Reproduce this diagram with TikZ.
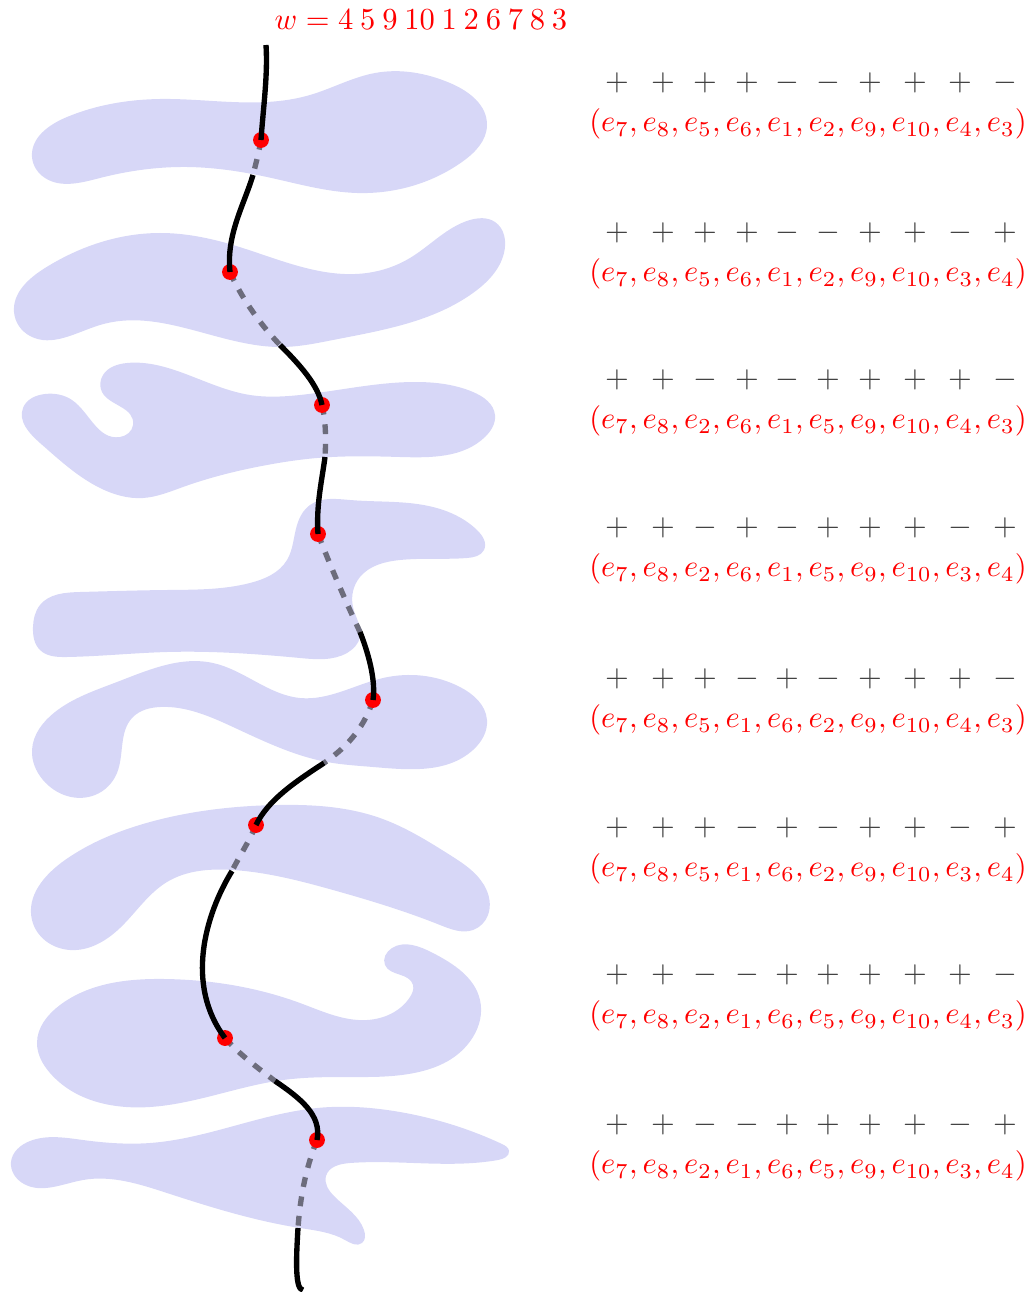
\documentclass[tikz,border=0pt]{standalone}
\usepackage{xcolor}
\usetikzlibrary{hobby}
\definecolor{blobblue}{RGB}{215,215,247}
\definecolor{hidden}{RGB}{108,108,124}
\begin{document}
\begin{tikzpicture}[x=0.0115cm,y=-0.0115cm,line cap=butt,line join=round,
    blob/.style={fill=blobblue,draw=none,use Hobby shortcut,closed=true},
    seen/.style={line width=1.75pt,black},
    behind/.style={line width=1.75pt,hidden,dash pattern=on 3.2pt off 3.2pt},
    dot/.style={circle,fill=red,inner sep=0pt,minimum size=5.2pt},
    tuple/.style={text=red,inner sep=1pt},
    sign/.style={text=black!75,inner sep=1pt}]
  \useasboundingbox (0,0) rectangle (1033,1292);
  % the eight pieces
  \fill[blob] (32,157) .. (67,117) .. (160,99) .. (267,102) .. (310,95) .. (375,73) .. (450,83) .. (487,125) .. (462,162) .. (357,193) .. (267,177) .. (187,167) .. (100,178) .. (45,178);
  \fill[blob] (14,312) .. (45,268) .. (160,233) .. (233,245) .. (367,273) .. (410,258) .. (470,220) .. (495,222) .. (504,253) .. (473,293) .. (333,340) .. (283,347) .. (100,325) .. (30,336);
  \fill[blob] (23,408) .. (45,394) .. (72,400) .. (120,437) .. (133,425) .. (102,392) .. (103,375) .. (127,363) .. (183,373) .. (250,395) .. (300,395) .. (417,382) .. (473,392) .. (495,415) .. (485,437) .. (400,457) .. (317,458) .. (267,465) .. (183,487) .. (143,498) .. (100,488) .. (40,443);
  \fill[blob] (297,525) .. (310,505) .. (350,500) .. (433,507) .. (477,530) .. (484,550) .. (467,558) .. (400,560) .. (360,577) .. (353,607) .. (360,637) .. (347,653) .. (300,658) .. (167,652) .. (67,657) .. (40,650) .. (33,627) .. (40,605) .. (80,592) .. (167,590) .. (250,583) .. (287,560);
  \fill[blob] (32,750) .. (55,712) .. (117,682) .. (213,663) .. (300,698) .. (383,678) .. (460,687) .. (487,720) .. (473,750) .. (373,767) .. (327,762) .. (233,727) .. (160,707) .. (133,717) .. (117,773) .. (95,795) .. (43,780);
  \fill[blob] (32,920) .. (65,860) .. (150,822) .. (277,805) .. (380,818) .. (450,855) .. (484,885) .. (488,915) .. (473,930) .. (440,925) .. (333,890) .. (233,870) .. (167,882) .. (120,928) .. (70,950);
  \fill[blob] (37,1043) .. (60,1005) .. (165,979) .. (300,1003) .. (367,1020) .. (410,997) .. (413,985) .. (385,965) .. (392,948) .. (433,953) .. (480,1000) .. (473,1037) .. (367,1077) .. (283,1080) .. (150,1107) .. (50,1073);
  \fill[blob] (11,1162) .. (30,1141) .. (83,1140) .. (150,1143) .. (317,1108) .. (400,1112) .. (502,1144) .. (509,1151) .. (498,1160) .. (350,1163) .. (326,1176) .. (334,1196) .. (364,1230) .. (362,1243) .. (345,1240) .. (300,1228) .. (167,1193) .. (83,1180) .. (24,1184);

  % points on the curve
  \coordinate (top) at (266,45);
  \coordinate (p1) at (261,140);  \coordinate (q1) at (253,175);
  \coordinate (p2) at (230,272);  \coordinate (q2) at (280,345);
  \coordinate (p3) at (322,405);  \coordinate (q3) at (325,457);
  \coordinate (p4) at (318,534);  \coordinate (q4) at (360,632);
  \coordinate (p5) at (373,700);  \coordinate (q5) at (324,763);
  \coordinate (p6) at (256,825);  \coordinate (q6) at (232,871);
  \coordinate (p7) at (225,1038); \coordinate (q7) at (275,1081);
  \coordinate (p8) at (317,1140); \coordinate (q8) at (298,1228);
  \coordinate (bot) at (303,1290);

  % parts below the pieces
  \draw[behind] (p1) .. controls (259,152) and (256,163) .. (q1);
  \draw[behind] (p2) .. controls (240,295) and (258,322) .. (q2);
  \draw[behind] (p3) .. controls (326,422) and (326,440) .. (q3);
  \draw[behind] (p4) .. controls (330,565) and (345,600) .. (q4);
  \draw[behind] (p5) .. controls (365,725) and (350,745) .. (q5);
  \draw[behind] (p6) .. controls (250,840) and (240,855) .. (q6);
  \draw[behind] (p7) .. controls (240,1055) and (258,1068) .. (q7);
  \draw[behind] (p8) .. controls (305,1170) and (300,1200) .. (q8);

  \foreach \i in {1,...,8}
    \node[dot] (d\i) at (p\i) {};

  % parts in front
  \draw[seen] (top) .. controls (268,75) and (263,110) .. (p1);
  \draw[seen] (q1) .. controls (244,205) and (226,235) .. (p2);
  \draw[seen] (q2) .. controls (300,365) and (318,385) .. (p3);
  \draw[seen] (q3) .. controls (322,480) and (316,505) .. (p4);
  \draw[seen] (q4) .. controls (368,652) and (376,680) .. (p5);
  \draw[seen] (q5) .. controls (295,782) and (268,800) .. (p6);
  \draw[seen] (q6) .. controls (205,915) and (185,985) .. (p7);
  \draw[seen] (q7) .. controls (300,1098) and (322,1115) .. (p8);
  \draw[seen] (q8) .. controls (296,1260) and (295,1290) .. (bot);

  \node[text=red] (w) at (421,20) {$w = 4\:5\:9\:10\:1\:2\:6\:7\:8\:3$};

  % signs and orders
  \foreach \yy/\sg/\tp [count=\r] in {
      83/{+,+,+,+,-,-,+,+,+,-}/{e_7,e_8,e_5,e_6,e_1,e_2,e_9,e_{10},e_4,e_3},
      233/{+,+,+,+,-,-,+,+,-,+}/{e_7,e_8,e_5,e_6,e_1,e_2,e_9,e_{10},e_3,e_4},
      380/{+,+,-,+,-,+,+,+,+,-}/{e_7,e_8,e_2,e_6,e_1,e_5,e_9,e_{10},e_4,e_3},
      528/{+,+,-,+,-,+,+,+,-,+}/{e_7,e_8,e_2,e_6,e_1,e_5,e_9,e_{10},e_3,e_4},
      679/{+,+,+,-,+,-,+,+,+,-}/{e_7,e_8,e_5,e_1,e_6,e_2,e_9,e_{10},e_4,e_3},
      828/{+,+,+,-,+,-,+,+,-,+}/{e_7,e_8,e_5,e_1,e_6,e_2,e_9,e_{10},e_3,e_4},
      975/{+,+,-,-,+,+,+,+,+,-}/{e_7,e_8,e_2,e_1,e_6,e_5,e_9,e_{10},e_4,e_3},
      1125/{+,+,-,-,+,+,+,+,-,+}/{e_7,e_8,e_2,e_1,e_6,e_5,e_9,e_{10},e_3,e_4}}{
    \node[tuple] (t\r) at (808,\yy+41) {$(\tp)$};
    \foreach \s [count=\k] in \sg {
      \pgfmathsetmacro\xx{{617,663,705,747,787,828,870,915,960,1005}[\k-1]}
      \node[sign] (s\r-\k) at (\xx,\yy) {$\s$};
    }
  }
\end{tikzpicture}
\end{document}
